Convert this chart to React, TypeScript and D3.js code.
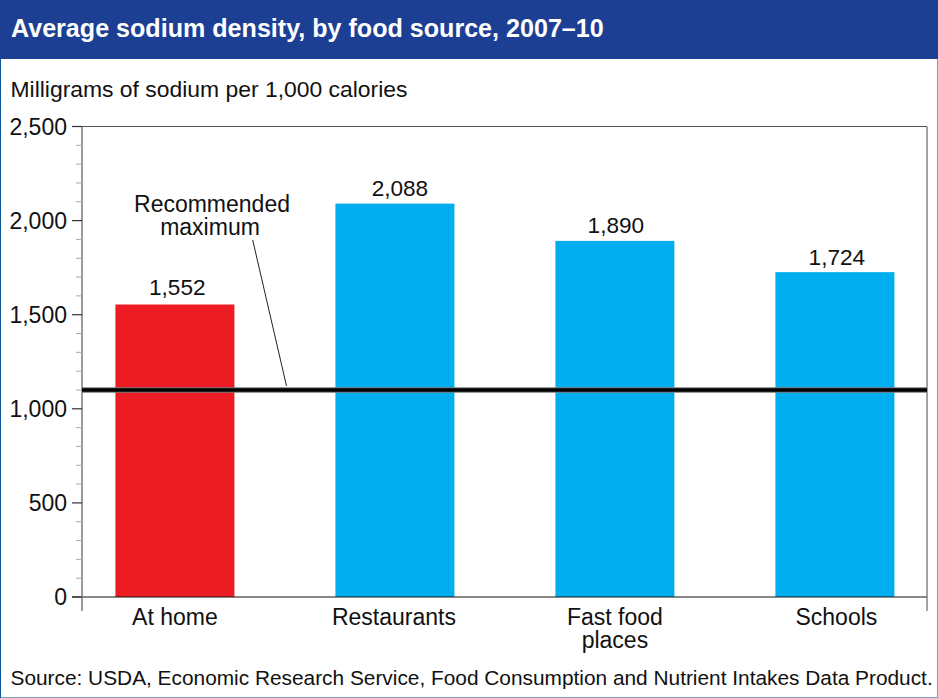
// Average sodium density by food source, ERS chart
import { useEffect, useRef } from 'react'
import * as d3 from 'd3'

const categories = ['At home', 'Restaurants', 'Fast food places', 'Schools']
const values = [1552, 2088, 1890, 1724]
const barColors = ['#ed1c24', '#00aeef', '#00aeef', '#00aeef']
const majorTicks = [0, 500, 1000, 1500, 2000, 2500]
const minorTicks = d3.range(0, 2500, 100).filter((t) => t % 500 !== 0)
const recommended = 1100

const W = 938, H = 698
const FONT = '"Liberation Sans", Arial, sans-serif'
const M = { top: 126.5, right: 11, bottom: 101, left: 82 }

export default function App() {
  const svgRef = useRef<SVGSVGElement>(null)

  useEffect(() => {
    const svg = d3.select(svgRef.current)
    svg.selectAll('*').remove()
    svg.attr('font-family', FONT)

    const x = d3.scaleBand<string>()
      .domain(categories)
      .range([M.left + 0.4, W - M.right + 0.4])
      .paddingInner(0.459)
      .paddingOuter(0.15)
    const y = d3.scaleLinear().domain([0, 2500]).range([H - M.bottom, M.top])

    // hand placement of the labels, the original is not strictly centred
    const valueDx = [2.4, 5, 1, 2]
    const valueGap = [10, 8, 7.6, 7]
    const catDx = [0, -1, 0, 1.5]

    // frame + title band
    svg.append('rect').attr('width', W).attr('height', H).attr('fill', '#fff')
    svg.append('rect').attr('x', 0.5).attr('y', 0.5).attr('width', W - 1).attr('height', H - 1)
      .attr('fill', 'none').attr('stroke', '#7f9cc4')
    svg.append('line').attr('x1', 0.5).attr('x2', 0.5).attr('y1', 0).attr('y2', H)
      .attr('stroke', '#0f5a9e')
    svg.append('rect').attr('width', W).attr('height', 59).attr('fill', '#1c3f94')
    svg.append('text').attr('x', 11).attr('y', 37)
      .attr('font-size', 25.1).attr('font-weight', 700).attr('fill', '#fff')
      .text('Average sodium density, by food source, 2007–10')

    svg.append('text').attr('x', 10.5).attr('y', 97)
      .attr('font-size', 22.9).attr('fill', '#111')
      .text('Milligrams of sodium per 1,000 calories')

    // bars
    svg.append('g').selectAll('rect')
      .data(categories)
      .join('rect')
      .attr('x', (c) => x(c)!)
      .attr('y', (_, i) => y(values[i]) - 0.4)
      .attr('width', x.bandwidth())
      .attr('height', (_, i) => y(0) - y(values[i]) + 0.4)
      .attr('fill', (_, i) => barColors[i])

    // value labels
    svg.append('g').selectAll('text')
      .data(categories)
      .join('text')
      .attr('x', (c, i) => x(c)! + x.bandwidth() / 2 + valueDx[i])
      .attr('y', (_, i) => y(values[i]) - 0.4 - valueGap[i])
      .attr('text-anchor', 'middle').attr('font-size', 22.6).attr('fill', '#111')
      .text((_, i) => d3.format(',')(values[i]))

    // axes
    const plot = svg.append('g')
    plot.append('line').attr('x1', 72).attr('x2', W - M.right)
      .attr('y1', y(2500)).attr('y2', y(2500)).attr('stroke', '#555').attr('stroke-width', 1.2)
    plot.append('line').attr('x1', 72).attr('x2', W - M.right)
      .attr('y1', y(0)).attr('y2', y(0)).attr('stroke', '#111').attr('stroke-width', 1.2)
    plot.append('line').attr('x1', M.left).attr('x2', M.left)
      .attr('y1', y(2500)).attr('y2', y(0) + 14).attr('stroke', '#808080').attr('stroke-width', 1.6)
    plot.append('line').attr('x1', W - M.right).attr('x2', W - M.right)
      .attr('y1', y(2500)).attr('y2', y(0) + 14).attr('stroke', '#666').attr('stroke-width', 1.2)

    plot.selectAll('line.minor')
      .data(minorTicks)
      .join('line')
      .attr('class', 'minor')
      .attr('x1', 76).attr('x2', M.left)
      .attr('y1', (t) => y(t)).attr('y2', (t) => y(t))
      .attr('stroke', '#aaa').attr('stroke-width', 1)
    plot.selectAll('line.major')
      .data(majorTicks)
      .join('line')
      .attr('class', 'major')
      .attr('x1', 72).attr('x2', M.left)
      .attr('y1', (t) => y(t)).attr('y2', (t) => y(t))
      .attr('stroke', '#333').attr('stroke-width', 1.2)
    plot.selectAll('text.ytick')
      .data(majorTicks)
      .join('text')
      .attr('class', 'ytick')
      .attr('x', 67).attr('y', (t) => y(t) + 8.3)
      .attr('text-anchor', 'end').attr('font-size', 23).attr('fill', '#111')
      .text((t) => d3.format(',')(t))

    // category labels, "Fast food places" wraps on two lines
    const catLines = (c: string) => c === 'Fast food places' ? ['Fast food', 'places'] : [c]
    const labels = svg.append('g').selectAll('text')
      .data(categories)
      .join('text')
      .attr('y', y(0) + 28)
      .attr('text-anchor', 'middle').attr('font-size', 23).attr('fill', '#111')
    labels.selectAll('tspan')
      .data((c) => catLines(c).map((line) => ({ c, line })))
      .join('tspan')
      .attr('x', (d) => x(d.c)! + x.bandwidth() / 2 + catDx[categories.indexOf(d.c)])
      .attr('dy', (_, i) => (i ? 23 : 0))
      .text((d) => d.line)

    // recommended maximum line
    svg.append('line').attr('x1', M.left).attr('x2', W - M.right)
      .attr('y1', y(recommended)).attr('y2', y(recommended))
      .attr('stroke', '#777').attr('stroke-width', 5.5)
    svg.append('line').attr('x1', M.left).attr('x2', W - M.right)
      .attr('y1', y(recommended)).attr('y2', y(recommended))
      .attr('stroke', '#000').attr('stroke-width', 3.6)

    const note = svg.append('text').attr('text-anchor', 'middle')
      .attr('font-size', 23).attr('fill', '#111')
    note.append('tspan').attr('x', 212).attr('y', 212).text('Recommended')
    note.append('tspan').attr('x', 210).attr('y', 235).text('maximum')
    svg.append('line').attr('x1', 252.7).attr('y1', 240).attr('x2', 286.5).attr('y2', y(recommended) - 4)
      .attr('stroke', '#222').attr('stroke-width', 1)

    svg.append('text').attr('x', 10.5).attr('y', 685)
      .attr('font-size', 20.85).attr('fill', '#111')
      .text('Source: USDA, Economic Research Service, Food Consumption and Nutrient Intakes Data Product.')
  }, [])

  return <svg ref={svgRef} width={W} height={H} style={{ position: 'absolute', left: 0, top: 0 }} />
}
